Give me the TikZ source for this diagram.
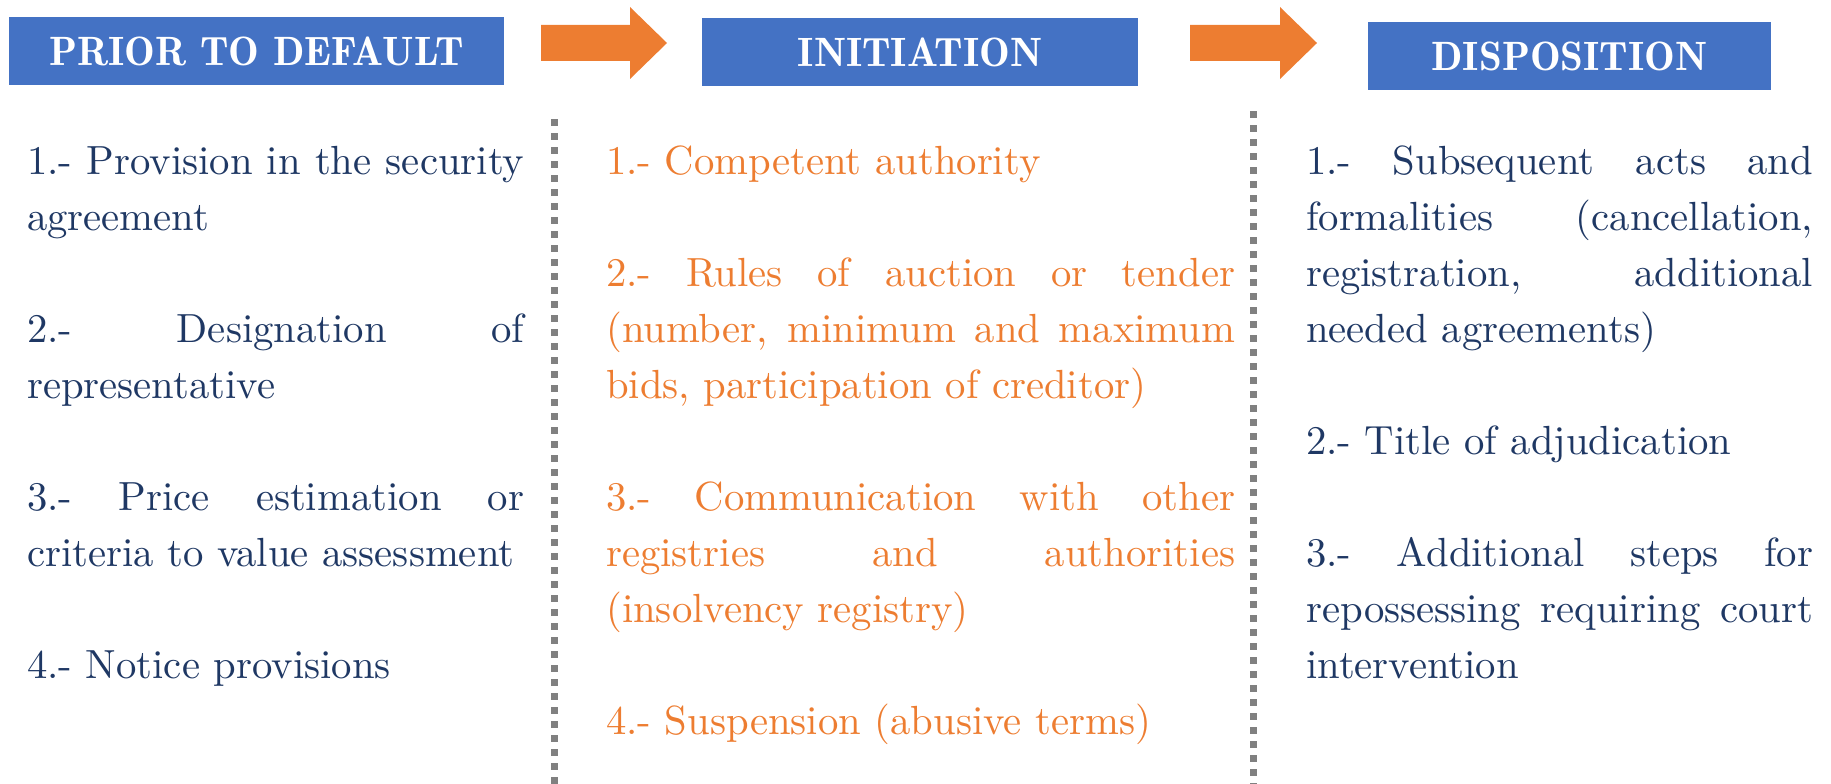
\documentclass[tikz,border=0pt]{standalone}
\usepackage{fontspec}
\setmainfont{lmroman10-regular.otf}
\newfontfamily\demifamily{lmromandemi10-regular.otf}

\definecolor{hdrblue}{HTML}{4472C4}
\definecolor{flow}{HTML}{ED7D31}
\definecolor{navy}{HTML}{1F3864}
\definecolor{sepgray}{HTML}{808080}

\newcommand\bodyfont{\fontsize{40.7}{56}\selectfont}
\newcommand\hdrfont{\demifamily\fontsize{41}{48}\selectfont}
% a line set flush to both margins of its column
\newcommand\jl[2]{\makebox[#1][s]{#2}}

\tikzset{
  hdr/.style={fill=hdrblue, text=white, inner sep=0pt, font=\hdrfont, anchor=center},
  blockarrow/.style={fill=flow, draw=none},
  sep/.style={draw=sepgray, line width=6.5pt, dash pattern=on 6.5pt off 7.5pt},
  navyline/.style={anchor=base west, inner sep=0pt, text=navy, font=\bodyfont},
  orangeline/.style={anchor=base west, inner sep=0pt, text=flow, font=\bodyfont},
}

\begin{document}
\begin{tikzpicture}[x=1pt, y=-1pt]
\useasboundingbox (0,0) rectangle (1831,784);

% stage headers
\node[hdr, minimum width=495pt, minimum height=68pt] (prior) at (256.5,51) {PRIOR TO DEFAULT};
\node[hdr, minimum width=436pt, minimum height=68pt] (init)  at (920,52)   {INITIATION};
\node[hdr, minimum width=403pt, minimum height=68pt] (disp)  at (1569.5,56) {DISPOSITION};

% block arrows between the headers
\fill[blockarrow] (541,25) -- (630,25) -- (630,7) -- (667,43) -- (630,79) -- (630,61) -- (541,61) -- cycle;
\fill[blockarrow] (1190,25) -- (1280,25) -- (1280,7) -- (1317,43) -- (1280,79) -- (1280,61) -- (1190,61) -- cycle;

% dotted column separators
\coordinate (s1top) at (554.5,119);
\coordinate (s1bot) at (554.5,784);
\coordinate (s2top) at (1253.5,111);
\coordinate (s2bot) at (1253.5,784);
\draw[sep] (s1top) -- (s1bot);
\draw[sep] (s2top) -- (s2bot);

% column 1: prior to default
\node[navyline] (c1a) at (27,174) {\jl{497pt}{1.- Provision in the security}};
\node[navyline] (c1b) at (27,230) {agreement};
\node[navyline] (c1c) at (27,342) {\jl{497pt}{2.- Designation of}};
\node[navyline] (c1d) at (27,398) {representative};
\node[navyline] (c1e) at (27,510) {\jl{497pt}{3.- Price estimation or}};
\node[navyline] (c1f) at (27,566) {criteria to value assessment};
\node[navyline] (c1g) at (27,678) {4.- Notice provisions};

% column 2: initiation
\node[orangeline] (c2a) at (606,174) {1.- Competent authority};
\node[orangeline] (c2b) at (606,286) {\jl{629pt}{2.- Rules of auction or tender}};
\node[orangeline] (c2c) at (606,342) {\jl{629pt}{(number, minimum and maximum}};
\node[orangeline] (c2d) at (606,398) {bids, participation of creditor)};
\node[orangeline] (c2e) at (606,510) {\jl{629pt}{3.- Communication with other}};
\node[orangeline] (c2f) at (606,566) {\jl{629pt}{registries and authorities}};
\node[orangeline] (c2g) at (606,622) {(insolvency registry)};
\node[orangeline] (c2h) at (606,734) {4.- Suspension (abusive terms)};

% column 3: disposition
\node[navyline] (c3a) at (1306,174) {\jl{507pt}{1.- Subsequent acts and}};
\node[navyline] (c3b) at (1306,230) {\jl{507pt}{formalities (cancellation,}};
\node[navyline] (c3c) at (1306,286) {\jl{507pt}{registration, additional}};
\node[navyline] (c3d) at (1306,342) {needed agreements)};
\node[navyline] (c3e) at (1306,454) {2.- Title of adjudication};
\node[navyline] (c3f) at (1306,566) {\jl{507pt}{3.- Additional steps for}};
\node[navyline] (c3g) at (1306,622) {\jl{507pt}{repossessing requiring court}};
\node[navyline] (c3h) at (1306,678) {intervention};
\end{tikzpicture}
\end{document}
